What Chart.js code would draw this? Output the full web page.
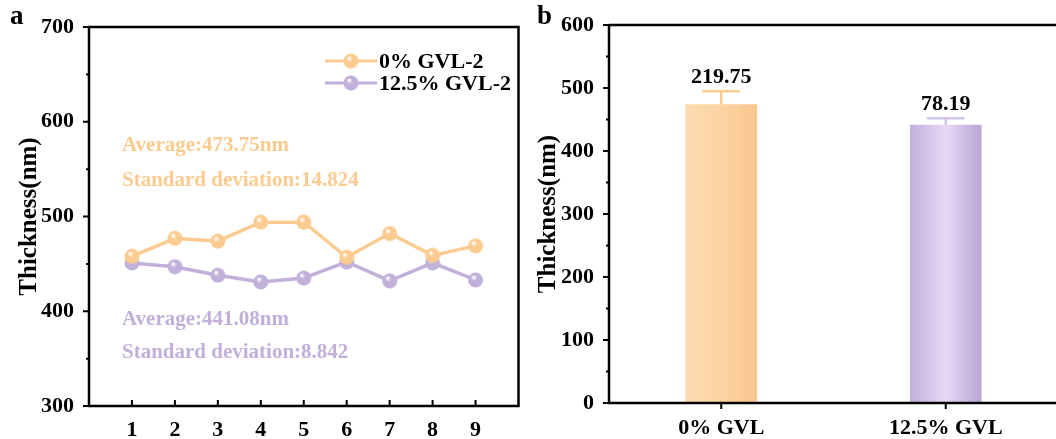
<!DOCTYPE html>
<html><head><meta charset="utf-8">
<script src="https://cdn.jsdelivr.net/npm/chart.js@4.4.1/dist/chart.umd.min.js"></script>
<style>
html,body{margin:0;padding:0;background:#fff;overflow:hidden;width:1056px;height:439px;}
#wa{position:absolute;left:0;top:0;width:530px;height:439px;}
#wb{position:absolute;left:530px;top:0;width:530px;height:439px;}
</style></head><body>
<div id="wa"><canvas id="ca"></canvas></div>
<div id="wb"><canvas id="cb"></canvas></div>
<script>
const samples = [1,2,3,4,5,6,7,8,9];
const gvl0 = [458,477,474,494,494,457,482,459,469];
const gvl125 = [451,447,438,431,435,452,432,451,433];
const seriesNames = ['0% GVL-2','12.5% GVL-2'];
const leftYTicks = [300,400,500,600,700];
const barCats = ['0% GVL','12.5% GVL'];
const barMeans = [473.75,441.08];
const barErrors = [21,11];
const barLabels = ['219.75','78.19'];
const rightYTicks = [0,100,200,300,400,500,600];
const statsText = [['Average:473.75nm','Standard deviation:14.824'],['Average:441.08nm','Standard deviation:8.842']];

const ORANGE = '#FCCB8F', PURPLE = '#C0B0DA';
const FONT = "'Liberation Serif','Times New Roman',serif";

function sphere(col){
  const c = document.createElement('canvas'); c.width = 16; c.height = 16;
  const g = c.getContext('2d');
  const gr = g.createRadialGradient(6,5,0.5,8,8,8);
  gr.addColorStop(0,'#ffffff'); gr.addColorStop(0.35,col); gr.addColorStop(1,col);
  g.fillStyle = gr; g.beginPath(); g.arc(8,8,7.5,0,Math.PI*2); g.fill();
  return c;
}
const sphO = sphere(ORANGE), sphP = sphere(PURPLE);

function drawMinorTicks(ctx, scale, vals, x, len){
  ctx.beginPath();
  vals.forEach(v=>{const y=scale.getPixelForValue(v); ctx.moveTo(x,y); ctx.lineTo(x-len,y);});
  ctx.stroke();
}

const framePluginA = {
  id:'frameA',
  afterDraw(chart){
    const {ctx, chartArea:a, scales:{x,y}} = chart;
    ctx.save();
    ctx.strokeStyle='#000'; ctx.lineWidth=2.5;
    ctx.strokeRect(a.left,a.top,a.right-a.left,a.bottom-a.top);
    ctx.lineWidth=2;
    ctx.beginPath();
    leftYTicks.forEach(v=>{const py=y.getPixelForValue(v); ctx.moveTo(a.left,py); ctx.lineTo(a.left-6,py);});
    ctx.stroke();
    drawMinorTicks(ctx,y,[350,450,550,650],a.left,3);
    ctx.beginPath();
    samples.forEach(v=>{const px=x.getPixelForValue(v); ctx.moveTo(px,a.bottom); ctx.lineTo(px,a.bottom-6);});
    ctx.stroke();
    ctx.fillStyle='#000'; ctx.font='bold 27px '+FONT; ctx.textBaseline='middle'; ctx.textAlign='left';
    ctx.fillText('a',10,17);
    const lx=325, ly=[61,83];
    [[ORANGE,sphO],[PURPLE,sphP]].forEach((s,i)=>{
      ctx.strokeStyle=s[0]; ctx.lineWidth=3;
      ctx.beginPath(); ctx.moveTo(lx,ly[i]); ctx.lineTo(lx+52,ly[i]); ctx.stroke();
      ctx.drawImage(s[1],lx+26-8,ly[i]-8);
      ctx.fillStyle='#000'; ctx.font='bold 22px '+FONT;
      ctx.fillText(seriesNames[i],lx+54,ly[i]+1);
    });
    ctx.font='bold 21px '+FONT;
    ctx.fillStyle=ORANGE;
    ctx.fillText(statsText[0][0],122,146); ctx.fillText(statsText[0][1],122,181);
    ctx.fillStyle=PURPLE;
    ctx.fillText(statsText[1][0],122,320); ctx.fillText(statsText[1][1],122,353);
    ctx.restore();
  }
};

new Chart(document.getElementById('ca'),{
  type:'line',
  data:{datasets:[
    {label:seriesNames[0],data:samples.map((s,i)=>({x:s,y:gvl0[i]})),borderColor:ORANGE,borderWidth:3.5,pointStyle:sphO,pointRadius:8,pointHoverRadius:8,tension:0},
    {label:seriesNames[1],data:samples.map((s,i)=>({x:s,y:gvl125[i]})),borderColor:PURPLE,borderWidth:3.5,pointStyle:sphP,pointRadius:8,pointHoverRadius:8,tension:0}
  ]},
  options:{
    responsive:true,maintainAspectRatio:false,animation:false,
    layout:{padding:{top:27,right:6,left:0,bottom:0}},
    plugins:{legend:{display:false},tooltip:{enabled:false}},
    scales:{
      x:{type:'linear',min:0,max:10,grid:{display:false},border:{display:false},
        afterFit(s){s.height=33;},
        afterBuildTicks(s){s.ticks=samples.map(v=>({value:v}));},
        ticks:{color:'#000',font:{family:FONT,size:22,weight:'bold'},padding:3,maxRotation:0}},
      y:{min:300,max:700,grid:{display:false},border:{display:false},
        afterFit(s){s.width=89;},
        afterBuildTicks(s){s.ticks=leftYTicks.map(v=>({value:v}));},
        ticks:{color:'#000',font:{family:FONT,size:22,weight:'bold'},padding:7},
        title:{display:true,text:'Thickness(nm)',color:'#000',font:{family:FONT,size:25,weight:'bold'},padding:{top:15,bottom:0}}}
    }
  },
  plugins:[framePluginA]
});

const framePluginB = {
  id:'frameB',
  afterDatasetsDraw(chart){
    const {ctx, chartArea:a, scales:{x,y}} = chart;
    ctx.save();
    barMeans.forEach((m,i)=>{
      const px=x.getPixelForValue(i), top=y.getPixelForValue(m+barErrors[i]), base=y.getPixelForValue(m);
      ctx.strokeStyle = i===0?ORANGE:'#D2C4EA'; ctx.lineWidth=2.5;
      ctx.beginPath(); ctx.moveTo(px,base); ctx.lineTo(px,top); ctx.moveTo(px-19,top); ctx.lineTo(px+19,top); ctx.stroke();
      ctx.fillStyle='#000'; ctx.font='bold 22px '+FONT; ctx.textAlign='center'; ctx.textBaseline='bottom';
      ctx.fillText(barLabels[i],px,top-3);
    });
    ctx.strokeStyle='#000'; ctx.lineWidth=2.5;
    ctx.beginPath();
    ctx.moveTo(a.left,a.top); ctx.lineTo(a.right+5,a.top);
    ctx.moveTo(a.left,a.top); ctx.lineTo(a.left,a.bottom); ctx.lineTo(a.right+5,a.bottom);
    ctx.stroke();
    ctx.lineWidth=2;
    ctx.beginPath();
    rightYTicks.forEach(v=>{const py=y.getPixelForValue(v); ctx.moveTo(a.left,py); ctx.lineTo(a.left-6,py);});
    barCats.forEach((c,i)=>{const px=x.getPixelForValue(i); ctx.moveTo(px,a.bottom); ctx.lineTo(px,a.bottom+6);});
    ctx.stroke();
    drawMinorTicks(ctx,y,[50,150,250,350,450,550],a.left,3);
    ctx.fillStyle='#000'; ctx.font='bold 27px '+FONT; ctx.textBaseline='middle'; ctx.textAlign='left';
    ctx.fillText('b',7,17);
    ctx.restore();
  }
};

const gradStops = [['#FDDBB1','#FCD3A2','#FAC68E'],['#C2B1DB','#E7D8F7','#B9A6D6']];
new Chart(document.getElementById('cb'),{
  type:'bar',
  data:{labels:barCats,datasets:[{data:barMeans,barThickness:71,
    backgroundColor(c){
      const ch=c.chart; if(!ch.chartArea) return ORANGE;
      const px=ch.scales.x.getPixelForValue(c.dataIndex);
      const g=ch.ctx.createLinearGradient(px-35.5,0,px+35.5,0);
      const s=gradStops[c.dataIndex]; g.addColorStop(0,s[0]); g.addColorStop(0.5,s[1]); g.addColorStop(1,s[2]);
      return g;
    }}]},
  options:{
    responsive:true,maintainAspectRatio:false,animation:false,
    layout:{padding:{top:25,right:2,left:0,bottom:0}},
    plugins:{legend:{display:false},tooltip:{enabled:false}},
    scales:{
      x:{grid:{display:false},border:{display:false},afterFit(s){s.height=36;},
        ticks:{color:'#000',font:{family:FONT,size:22,weight:'bold'},padding:4,maxRotation:0}},
      y:{min:0,max:600,grid:{display:false},border:{display:false},
        afterFit(s){s.width=79;},
        afterBuildTicks(s){s.ticks=rightYTicks.map(v=>({value:v}));},
        ticks:{color:'#000',font:{family:FONT,size:22,weight:'bold'},padding:7},
        title:{display:true,text:'Thickness(nm)',color:'#000',font:{family:FONT,size:25,weight:'bold'},padding:{top:4,bottom:0}}}
    }
  },
  plugins:[framePluginB]
});
</script>
</body></html>
